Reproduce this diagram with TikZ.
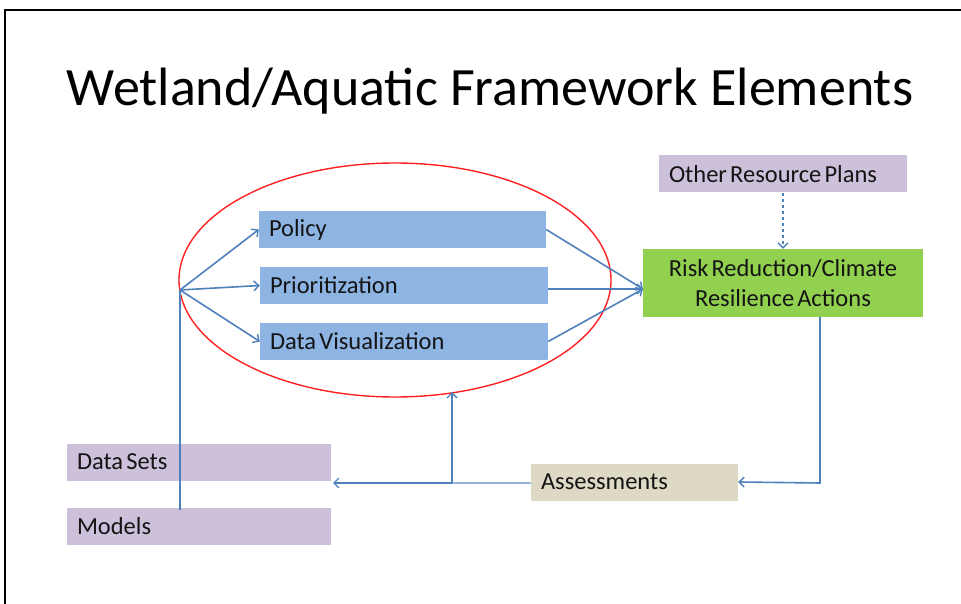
\documentclass[tikz,border=0pt]{standalone}
\usepackage{fontspec}
\setmainfont[WordSpace=0.55]{Carlito}
\newfontfamily\headfont{Carlito}
\usetikzlibrary{arrows.meta,shapes.geometric}
\definecolor{boxblue}{HTML}{8DB4E2}
\definecolor{boxlilac}{HTML}{CCC0DA}
\definecolor{boxgreen}{HTML}{92D050}
\definecolor{boxtan}{HTML}{DDD9C4}
\definecolor{linkblue}{HTML}{4F81BD}
\definecolor{linklight}{HTML}{95B3D7}
\definecolor{ringred}{HTML}{FF2020}
\definecolor{ink}{HTML}{141414}
\tikzset{
  x=1pt, y=1pt,
  itembox/.style={rectangle, inner xsep=10pt, inner ysep=0pt, align=left,
    minimum height=37pt, text=ink, font=\fontsize{24.5}{28}\selectfont,
    execute at begin node={\spaceskip=0.13em plus 0.02em\relax}},
  link/.style={draw=linkblue, line width=1.6pt},
  arr/.style={link, -{Straight Barb[length=5pt,width=10pt,line width=1.4pt]}},
}
\begin{document}
\begin{tikzpicture}
\useasboundingbox (0,0) rectangle (961,-604);
\fill[white] (0,0) rectangle (961,-604);
% slide frame
\draw[line width=2.6pt, line cap=rect] (5,-604) -- (5,-10) -- (961,-10);

% title
\node[anchor=base, font=\headfont\fontsize{54}{60}\selectfont] (title) at (490,-106) {Wetland/Aquatic Framework Elements};

% boxes
\node[itembox, fill=boxblue, text width=267pt] (policy) at (402.5,-229.5) {Policy};
\node[itembox, fill=boxblue, text width=268pt] (prio) at (404,-285.5) {Prioritization};
\node[itembox, fill=boxblue, text width=268pt] (dataviz) at (404,-341.5) {Data Visualization};
\node[itembox, fill=boxlilac, text width=228pt] (orp) at (783,-174) {Other Resource Plans};
\node[rectangle, fill=boxgreen, minimum width=280pt, minimum height=68pt, align=center,
  text=ink, font=\fontsize{24.5}{29.5}\selectfont] (risk) at (783,-283) {Risk Reduction/Climate\\Resilience Actions};
\node[itembox, fill=boxtan, text width=187pt] (assess) at (634.5,-482) {Assessments};
\node[itembox, fill=boxlilac, text width=244pt] (datasets) at (199,-462) {Data Sets};
\node[itembox, fill=boxlilac, text width=244pt] (models) at (199,-526.5) {Models};

% grouping ring
\node[draw=ringred, line width=1.4pt, ellipse, minimum width=432pt, minimum height=234pt, inner sep=0pt] (ring) at (395,-280) {};

% junction points
\coordinate (hub) at (180,-290);
\coordinate (vstart) at (180,-510);
\coordinate (riskin) at (643,-289);
\coordinate (corner) at (820,-483);
\coordinate (split) at (452,-483);
\coordinate (ringbottom) at (452,-392);
\coordinate (dsin) at (333,-483);

% connectors
\draw[link] (vstart) -- (hub);
\draw[arr] (hub) -- (policy.west);
\draw[arr] (hub) -- (prio.west);
\draw[arr] (hub) -- (dataviz.west);
\draw[arr] (policy.east) -- (riskin);
\draw[arr] (prio.east |- riskin) -- (riskin);
\draw[arr] (dataviz.east) -- (riskin);
\draw[arr, dashed] (orp.south) -- (risk.north);
\draw[arr] (risk.south -| corner) -- (corner) -- (assess.east);
\draw[draw=linklight, line width=2.2pt] (assess.west |- split) -- (split);
\draw[arr] (split) -- (dsin);
\draw[arr] (split) -- (ringbottom);
\end{tikzpicture}
\end{document}
